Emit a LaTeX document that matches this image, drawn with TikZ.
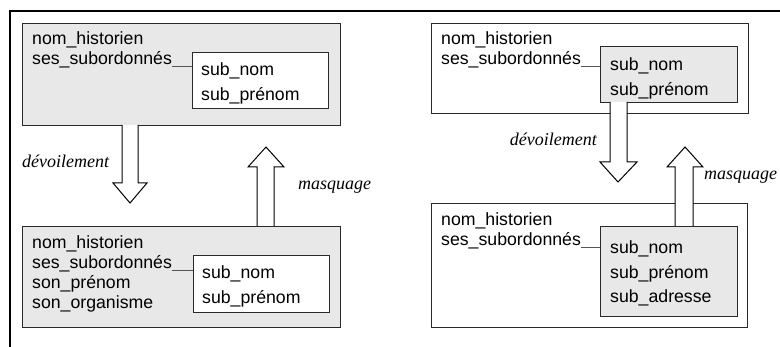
\documentclass[tikz,border=0pt]{standalone}
\usepackage{fontspec}
\setmainfont{Liberation Sans}
\newfontfamily\labelfont{Liberation Serif}
\definecolor{boxgray}{HTML}{E8E8E8}
\definecolor{edge}{HTML}{2A2A2A}
\begin{document}
\begin{tikzpicture}[x=1pt,y=-1pt,
  box/.style={draw=edge,line width=1pt,anchor=north west,inner sep=0pt},
  txt/.style={anchor=base west,inner sep=0pt,font=\fontsize{17.7}{20}\selectfont},
  lbl/.style={anchor=base west,inner sep=0pt,font=\fontsize{18}{20}\selectfont\labelfont\itshape},
  link/.style={draw=edge!80,line width=0.9pt},
  blockarrow/.style={draw=black,line width=1pt,fill=white,line join=miter}]
\useasboundingbox (0,0) rectangle (780,347);
\draw[line width=1.4pt] (10,347) -- (10,11) -- (780,11);

% ---------- left top
\node[box,fill=boxgray,minimum width=318pt,minimum height=102pt] (LT) at (22,23) {};
\node[box,fill=white,minimum width=136pt,minimum height=56pt] (LTi) at (192,52) {};
\node[txt] (LT1) at (32,45) {nom\_historien};
\node[txt] (LT2) at (32,65) {ses\_subordonnés};
\node[txt] (LTi1) at (201,76) {sub\_nom};
\node[txt] (LTi2) at (201,101) {sub\_prénom};
\draw[link] (LT2.base east) ++(0,1.5) coordinate (LTc) -- (LTc -| LTi.west);

% ---------- left bottom
\node[box,fill=boxgray,minimum width=318pt,minimum height=101pt] (LB) at (22,226) {};
\node[box,fill=white,minimum width=136pt,minimum height=57pt] (LBi) at (193,255) {};
\node[txt] (LB1) at (32,249) {nom\_historien};
\node[txt] (LB2) at (32,269) {ses\_subordonnés};
\node[txt] (LB3) at (32,289) {son\_prénom};
\node[txt] (LB4) at (32,309) {son\_organisme};
\node[txt] (LBi1) at (202,279) {sub\_nom};
\node[txt] (LBi2) at (202,304) {sub\_prénom};
\draw[link] (LB2.base east) ++(0,1.5) coordinate (LBc) -- (LBc -| LBi.west);

% left arrows
\draw[blockarrow] (122,125) -- (122,183) -- (113,183) -- (130,203) -- (147,183) -- (138,183) -- (138,125);
\draw[blockarrow] (257,226) -- (257,167) -- (248,167) -- (266,147) -- (284,167) -- (274,167) -- (274,226);
\node[lbl] (Ld) at (22,168) {dévoilement};
\node[lbl] (Lm) at (298,190) {masquage};

% ---------- right top
\node[box,fill=white,minimum width=317pt,minimum height=90pt] (RT) at (431,23) {};
\node[box,fill=boxgray,minimum width=137pt,minimum height=56pt] (RTi) at (600,46) {};
\node[txt] (RT1) at (441,45) {nom\_historien};
\node[txt] (RT2) at (441,65) {ses\_subordonnés};
\node[txt] (RTi1) at (610,71) {sub\_nom};
\node[txt] (RTi2) at (610,96) {sub\_prénom};
\draw[link] (RT2.base east) ++(0,1.5) coordinate (RTc) -- (RTc -| RTi.west);

% ---------- right bottom
\node[box,fill=white,minimum width=316pt,minimum height=124pt] (RB) at (431,203) {};
\node[box,fill=boxgray,minimum width=137pt,minimum height=90pt] (RBi) at (600,226) {};
\node[txt] (RB1) at (441,226) {nom\_historien};
\node[txt] (RB2) at (441,246) {ses\_subordonnés};
\node[txt] (RBi1) at (610,254) {sub\_nom};
\node[txt] (RBi2) at (610,279) {sub\_prénom};
\node[txt] (RBi3) at (610,303) {sub\_adresse};
\draw[link] (RB2.base east) ++(0,1.5) coordinate (RBc) -- (RBc -| RBi.west);

% right arrows
\draw[blockarrow] (610,102) -- (610,162) -- (600,162) -- (618,182) -- (637,162) -- (627,162) -- (627,102);
\draw[blockarrow] (675,226) -- (675,167) -- (667,167) -- (685,147) -- (703,167) -- (693,167) -- (693,226);
\node[lbl,anchor=base east] (Rd) at (597,146) {dévoilement};
\node[lbl] (Rm) at (704,180) {masquage};
\end{tikzpicture}
\end{document}
